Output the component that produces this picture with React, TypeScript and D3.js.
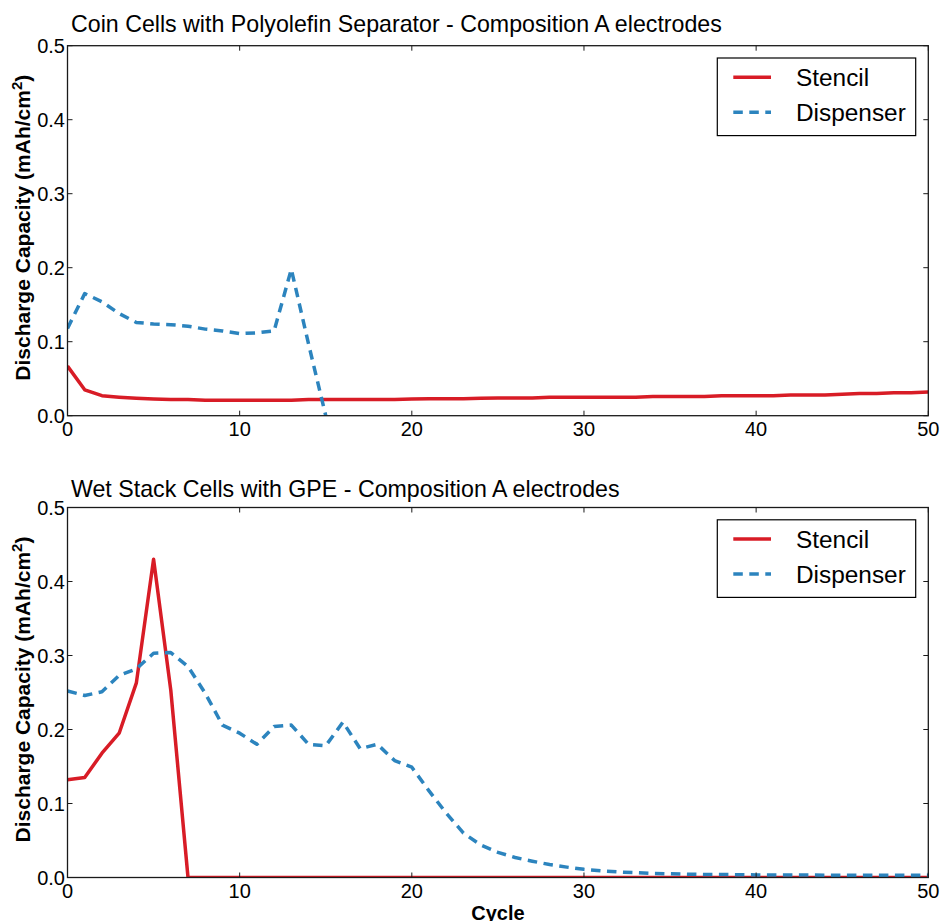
import React from "react";
import * as d3 from "d3";

const cycles = d3.range(0, 51);

const topStencil = [
  0.067, 0.035, 0.027, 0.025, 0.0235, 0.0225, 0.022, 0.022, 0.021, 0.021,
  0.021, 0.021, 0.021, 0.021, 0.022, 0.022, 0.022, 0.022, 0.022, 0.022,
  0.0225, 0.023, 0.023, 0.023, 0.0235, 0.024, 0.024, 0.024, 0.025, 0.025,
  0.025, 0.025, 0.025, 0.025, 0.026, 0.026, 0.026, 0.026, 0.027, 0.027,
  0.027, 0.027, 0.028, 0.028, 0.028, 0.029, 0.030, 0.030, 0.031, 0.031,
  0.032,
];
const topDispenser = [
  0.118, 0.165, 0.154, 0.138, 0.126, 0.124, 0.123, 0.121, 0.117, 0.1145,
  0.111, 0.112, 0.1145, 0.198, 0.097, 0.0,
];
const bottomStencil = [
  0.132, 0.135, 0.168, 0.195, 0.263, 0.43, 0.253, 0, 0, 0,
  0, 0, 0, 0, 0, 0, 0, 0, 0, 0,
  0, 0, 0, 0, 0, 0, 0, 0, 0, 0,
  0, 0, 0, 0, 0, 0, 0, 0, 0, 0,
  0, 0, 0, 0, 0, 0, 0, 0, 0, 0,
  0,
];
const bottomDispenser = [
  0.252, 0.246, 0.251, 0.273, 0.282, 0.303, 0.304, 0.285, 0.249, 0.206,
  0.195, 0.18, 0.204, 0.206, 0.18, 0.178, 0.21, 0.174, 0.18, 0.158,
  0.149, 0.117, 0.087, 0.06, 0.044, 0.034, 0.027, 0.022, 0.0175, 0.014,
  0.011, 0.009, 0.0075, 0.0065, 0.0055, 0.005, 0.0045, 0.004, 0.004, 0.0038,
  0.0035, 0.0034, 0.0033, 0.0033, 0.0032, 0.0032, 0.0031, 0.0031, 0.003, 0.003,
  0.003,
];

const xTicks = [0, 10, 20, 30, 40, 50];
const yTicks = [0.0, 0.1, 0.2, 0.3, 0.4, 0.5];
const seriesNames = ["Stencil", "Dispenser"];
const titles = [
  "Coin Cells with Polyolefin Separator - Composition A electrodes",
  "Wet Stack Cells with GPE - Composition A electrodes",
];

const RED = "#d81c26";
const BLUE = "#2c84be";
const FONT = "'Liberation Sans', Arial, Helvetica, sans-serif";

const X0 = 67.5;
const X1 = 928.3;
const PANEL_H = 370;
const PANEL_TOPS = [45.7, 507.5];
const TITLE_OFFSETS = [13.5, 10.5];

function Panel({ idx, top, stencil, dispenser, showXLabel }) {
  const x = d3.scaleLinear().domain([0, 50]).range([X0, X1]);
  const y = d3.scaleLinear().domain([0, 0.5]).range([top + PANEL_H, top]);
  const line = d3
    .line<number>()
    .x((_, i) => x(cycles[i]))
    .y((d) => y(d));
  const clipId = `clip-${idx}`;
  const bottom = top + PANEL_H;
  const lgX = 717.3;
  const lgY = top + 12.3;
  const tickLen = 5;
  const axisColor = "#1a1a1a";
  return (
    <g>
      <defs>
        <clipPath id={clipId}>
          <rect x={X0} y={top} width={X1 - X0} height={PANEL_H} />
        </clipPath>
      </defs>
      <text x={71} y={top - TITLE_OFFSETS[idx]} fontSize={23.2} fontFamily={FONT} fill="#000">
        {titles[idx]}
      </text>
      <g clipPath={`url(#${clipId})`}>
        <path
          d={line(stencil) || ""}
          fill="none"
          stroke={RED}
          strokeWidth={3.5}
          strokeLinejoin="round"
        />
        <path
          d={line(dispenser) || ""}
          fill="none"
          stroke={BLUE}
          strokeWidth={3.5}
          strokeDasharray="9.5,6.5"
          strokeLinejoin="round"
        />
      </g>
      {xTicks.map((t) => (
        <g key={"xt" + t}>
          <line x1={x(t)} x2={x(t)} y1={bottom} y2={bottom - tickLen} stroke={axisColor} strokeWidth={1} />
          <line x1={x(t)} x2={x(t)} y1={top} y2={top + tickLen} stroke={axisColor} strokeWidth={1} />
          <text
            x={x(t)}
            y={bottom + 20.5}
            textAnchor="middle"
            fontSize={20}
            fontFamily={FONT}
            fill="#000"
          >
            {t}
          </text>
        </g>
      ))}
      {yTicks.map((t) => (
        <g key={"yt" + t}>
          <line x1={X0} x2={X0 + tickLen} y1={y(t)} y2={y(t)} stroke={axisColor} strokeWidth={1} />
          <line x1={X1} x2={X1 - tickLen} y1={y(t)} y2={y(t)} stroke={axisColor} strokeWidth={1} />
          <text
            x={X0 - 2.5}
            y={y(t) + 7}
            textAnchor="end"
            fontSize={20}
            fontFamily={FONT}
            fill="#000"
          >
            {t.toFixed(1)}
          </text>
        </g>
      ))}
      <rect
        x={X0}
        y={top}
        width={X1 - X0}
        height={PANEL_H}
        fill="none"
        stroke={axisColor}
        strokeWidth={1.3}
      />
      <text
        transform={`translate(30,${top + PANEL_H / 2 - 3}) rotate(-90)`}
        textAnchor="middle"
        fontSize={21}
        fontWeight="bold"
        fontFamily={FONT}
        fill="#000"
      >
        Discharge Capacity (mAh/cm
        <tspan fontSize={15} dy={-8}>2</tspan>
        <tspan dy={8}>)</tspan>
      </text>
      {showXLabel && (
        <text
          x={(X0 + X1) / 2}
          y={919.5}
          textAnchor="middle"
          fontSize={20}
          fontWeight="bold"
          fontFamily={FONT}
          fill="#000"
        >
          Cycle
        </text>
      )}
      <rect x={lgX} y={lgY} width={198.4} height={77.6} fill="#fff" stroke="#000" strokeWidth={1.2} />
      {seriesNames.map((name, i) => {
        const cy = lgY + 19.3 + i * 35;
        return (
          <g key={name}>
            <line
              x1={733.3}
              x2={771}
              y1={cy}
              y2={cy}
              stroke={i === 0 ? RED : BLUE}
              strokeWidth={3.5}
              strokeDasharray={i === 0 ? undefined : "9.5,6.5"}
            />
            <text x={796} y={cy + 8.5} fontSize={24.4} fontFamily={FONT} fill="#000">
              {name}
            </text>
          </g>
        );
      })}
    </g>
  );
}

export default function App() {
  return (
    <svg
      width={941}
      height={921}
      style={{ position: "absolute", left: 0, top: 0, background: "#fff" }}
    >
      <rect x={0} y={0} width={941} height={921} fill="#fff" />
      <Panel idx={0} top={PANEL_TOPS[0]} stencil={topStencil} dispenser={topDispenser} showXLabel={false} />
      <Panel idx={1} top={PANEL_TOPS[1]} stencil={bottomStencil} dispenser={bottomDispenser} showXLabel={true} />
    </svg>
  );
}
